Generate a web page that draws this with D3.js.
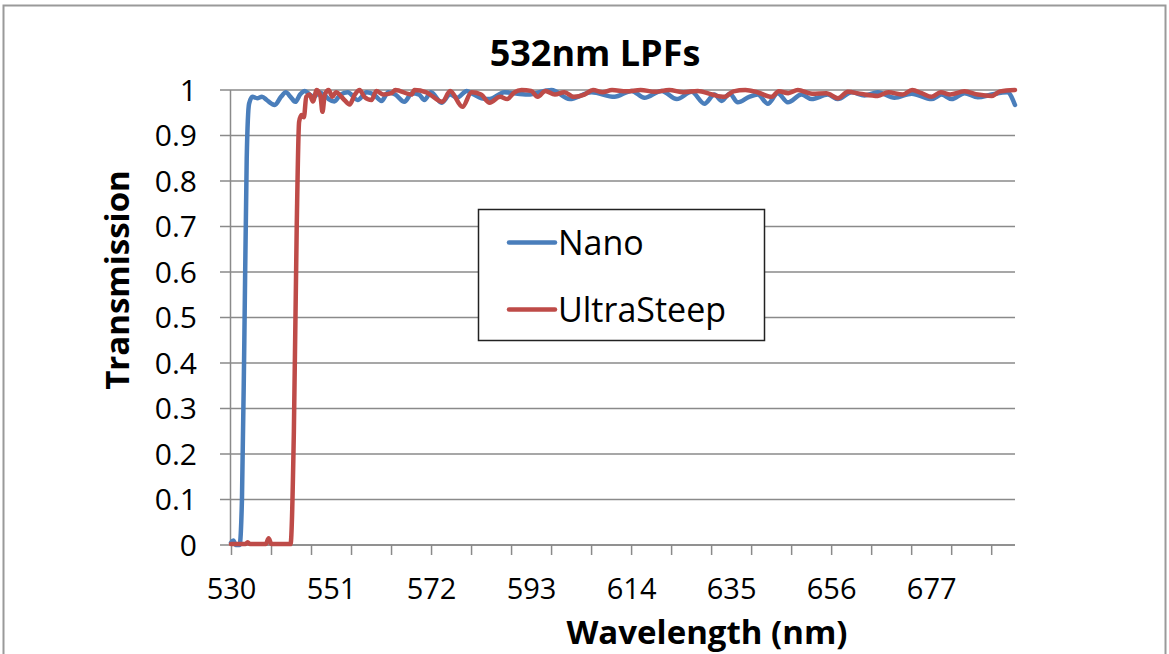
<!DOCTYPE html>
<html>
<head>
<meta charset="utf-8">
<script src="https://cdn.jsdelivr.net/npm/d3@7"></script>
<style>
  body { margin: 0; background: #fff; }
  text { font-family: "Open Sans", sans-serif; fill: #000; }
</style>
</head>
<body>
<div id="chart"></div>
<script>
// data
var nanoWl = [530, 530.5, 531, 531.8, 532.3, 532.8, 533.3, 533.8, 534.5, 535.5, 536.5, 537.5, 538.5, 539.2, 540.5,
  541.5, 542.5, 543.5, 544.5, 545.5, 546.5, 547.5, 548.5, 549.5, 550.5, 551.7, 553, 554.5, 556.6, 558.5,
  560, 561.6, 563, 564.5, 566.4, 568, 569.5, 570.6, 572, 574.2, 576, 577.5, 579.5, 581, 582.6,
  584.3, 587.4, 592.3, 597.3, 601.1, 605.7, 610.5, 614.1, 616.8, 620.4, 623.6, 626.7, 629.4, 631.5, 633,
  634.7, 636.4, 638.8, 640.6, 642.7, 644.8, 646.9, 649.8, 651.9, 655.3, 657.4, 660.3, 663, 665.8, 669.3,
  672.9, 677.1, 679.2, 681.3, 684, 686.8, 689.7, 693, 694.6]
var nanoT = [0.005, 0.01, 0, 0, 0.1, 0.45, 0.85, 0.97, 0.985, 0.982, 0.985, 0.978, 0.97, 0.967, 0.985,
  0.995, 0.985, 0.974, 0.99, 0.998, 0.99, 0.985, 0.995, 0.99, 0.98, 0.975, 0.99, 0.995, 0.978, 0.995,
  0.99, 0.976, 0.995, 0.99, 0.974, 0.993, 0.99, 0.978, 0.995, 0.972, 0.99, 0.983, 0.998, 0.99, 0.982,
  0.98, 0.995, 0.99, 1.0, 0.98, 0.995, 0.985, 0.998, 0.983, 0.998, 0.98, 0.996, 0.97, 0.99, 0.976,
  0.992, 0.973, 0.985, 0.99, 0.97, 0.993, 0.973, 0.99, 0.98, 0.99, 0.98, 0.995, 0.988, 0.995, 0.983,
  0.992, 0.98, 0.99, 0.98, 0.993, 0.984, 0.99, 0.995, 0.967]

var ultraWl = [530, 533, 533.5, 534, 537.3, 537.9, 538.5, 542.5, 543.2, 543.8, 544.3, 544.8, 545.3, 545.8, 546.5,
  547.2, 548, 548.8, 549.2, 549.7, 550.5, 551.3, 552, 553.8, 554.9, 556, 557, 558, 559.5, 560.5,
  562, 563.7, 564.5, 567.9, 568.5, 571, 574.4, 576, 578.6, 580.5, 582.5, 584.3, 586.5, 588, 589.5,
  591, 593, 594.4, 596, 598, 600, 602, 604.2, 606, 608, 610, 613, 616, 619, 622,
  625, 628, 631, 633.6, 635.5, 638, 640.5, 643.5, 645, 647, 649, 652, 655, 657.4, 659.5,
  662, 665.8, 668, 671, 673, 675, 677.1, 679, 681, 684, 686.8, 689.7, 691.5, 694.6]
var ultraT = [0.002, 0.002, 0.006, 0.002, 0.002, 0.015, 0.002, 0.002, 0.25, 0.7, 0.93, 0.945, 0.94, 0.985, 0.99,
  0.975, 1.0, 0.985, 0.952, 0.99, 1.0, 0.985, 0.995, 0.978, 0.968, 0.99, 1.0, 0.985, 0.978, 0.998,
  0.99, 0.993, 1.0, 0.99, 1.0, 0.995, 0.974, 0.998, 0.963, 0.995, 0.99, 0.972, 0.985, 0.98, 0.995,
  1.0, 0.998, 0.985, 0.998, 0.99, 0.995, 0.985, 0.99, 1.0, 0.995, 1.0, 0.997, 1.0, 0.996, 1.0,
  0.995, 0.998, 0.99, 0.985, 0.997, 1.0, 0.995, 0.985, 0.997, 0.993, 1.0, 0.992, 0.993, 0.982, 0.996,
  0.992, 0.987, 0.995, 0.99, 1.0, 0.993, 0.985, 0.995, 0.99, 0.997, 0.99, 0.987, 0.997, 1.0]

var seriesNames = ['Nano', 'UltraSteep']
var seriesColors = ['#4A7EBB', '#BE4B48']
var xLabels = [530, 551, 572, 593, 614, 635, 656, 677]
var xMinorTicks = [530, 538.4, 546.8, 555.2, 563.6, 572, 580.4, 588.8, 597.2, 605.6, 614, 622.4, 630.8,
  639.2, 647.6, 656, 664.4, 672.8, 681.2, 689.6]
var yTicks = [0, 0.1, 0.2, 0.3, 0.4, 0.5, 0.6, 0.7, 0.8, 0.9, 1]

var width = 1169, height = 654
var svg = d3.select('#chart').append('svg')
  .attr('width', width)
  .attr('height', height)

// outer chart frame
svg.append('rect')
  .attr('x', 3.5).attr('y', 5.5)
  .attr('width', 1162).attr('height', 700)
  .attr('fill', 'none')
  .attr('stroke', '#9a9a9a')
  .attr('stroke-width', 2)

var x = d3.scaleLinear().domain([530, 694.6]).range([231, 1015])
var y = d3.scaleLinear().domain([0, 1]).range([545, 90])

// gridlines + y ticks
svg.append('g')
  .selectAll('line')
  .data(yTicks)
  .join('line')
  .attr('x1', 220).attr('x2', 1015)
  .attr('y1', function(d) { return y(d) }).attr('y2', function(d) { return y(d) })
  .attr('stroke', '#8a8a8a')
  .attr('stroke-width', 1.5)

svg.append('g')
  .selectAll('text')
  .data(yTicks)
  .join('text')
  .attr('x', 197)
  .attr('y', function(d) { return y(d) })
  .attr('dy', '0.35em')
  .attr('text-anchor', 'end')
  .style('font-size', '30px')
  .text(function(d) { return d3.format('')(d) })

// x axis tick marks (no labels)
var xAxisTicks = svg.append('g')
  .attr('transform', 'translate(0,545)')
  .call(d3.axisBottom(x).tickValues(xMinorTicks).tickSize(10).tickFormat(''))
xAxisTicks.select('.domain').attr('stroke', '#8a8a8a').attr('stroke-width', 1.5)
  .attr('d', 'M231,0H1015')
xAxisTicks.selectAll('.tick line').attr('stroke', '#8a8a8a').attr('stroke-width', 1.5)
xAxisTicks.selectAll('.tick text').remove()

// x axis labels
var xAxisLabels = svg.append('g')
  .attr('transform', 'translate(0,545)')
  .call(d3.axisBottom(x).tickValues(xLabels).tickSize(0).tickPadding(0).tickFormat(d3.format('d')))
xAxisLabels.select('.domain').remove()
xAxisLabels.selectAll('text')
  .attr('y', 54).attr('dy', 0)
  .style('font-size', '29px')
  .style('font-family', '"Open Sans", sans-serif')
  .attr('fill', '#000')

// y axis line
svg.append('line')
  .attr('x1', 230.5).attr('x2', 230.5)
  .attr('y1', 90).attr('y2', 545)
  .attr('stroke', '#8a8a8a')
  .attr('stroke-width', 1.5)

// series
var line = d3.line()
  .x(function(d) { return x(d[0]) })
  .y(function(d) { return y(d[1]) })
  .curve(d3.curveMonotoneX)

var series = [d3.zip(nanoWl, nanoT), d3.zip(ultraWl, ultraT)]

series.forEach(function(s, i) {
  svg.append('path')
    .datum(s)
    .attr('d', line)
    .attr('fill', 'none')
    .attr('stroke', seriesColors[i])
    .attr('stroke-width', 4.5)
    .attr('stroke-linejoin', 'round')
    .attr('stroke-linecap', 'round')
})

// legend
var legend = svg.append('g')
legend.append('rect')
  .attr('x', 478.5).attr('y', 209.5)
  .attr('width', 286).attr('height', 131)
  .attr('fill', '#fff')
  .attr('stroke', '#222')
  .attr('stroke-width', 1.5)

seriesNames.forEach(function(name, i) {
  var ly = 242.5 + i * 67
  legend.append('line')
    .attr('x1', 509).attr('x2', 555)
    .attr('y1', ly).attr('y2', ly)
    .attr('stroke', seriesColors[i])
    .attr('stroke-width', 4.5)
    .attr('stroke-linecap', 'round')
  legend.append('text')
    .attr('x', 558)
    .attr('y', ly + 12)
    .style('font-size', '34px')
    .text(name)
})

// titles
svg.append('text')
  .attr('x', 595).attr('y', 66)
  .attr('text-anchor', 'middle')
  .style('font-size', '36px')
  .style('font-weight', 'bold')
  .text('532nm LPFs')

svg.append('text')
  .attr('x', 707).attr('y', 644)
  .attr('text-anchor', 'middle')
  .style('font-size', '33px')
  .style('font-weight', 'bold')
  .text('Wavelength (nm)')

svg.append('text')
  .attr('transform', 'translate(129,280) rotate(-90)')
  .attr('text-anchor', 'middle')
  .style('font-size', '33px')
  .style('font-weight', 'bold')
  .text('Transmission')
</script>
</body>
</html>
